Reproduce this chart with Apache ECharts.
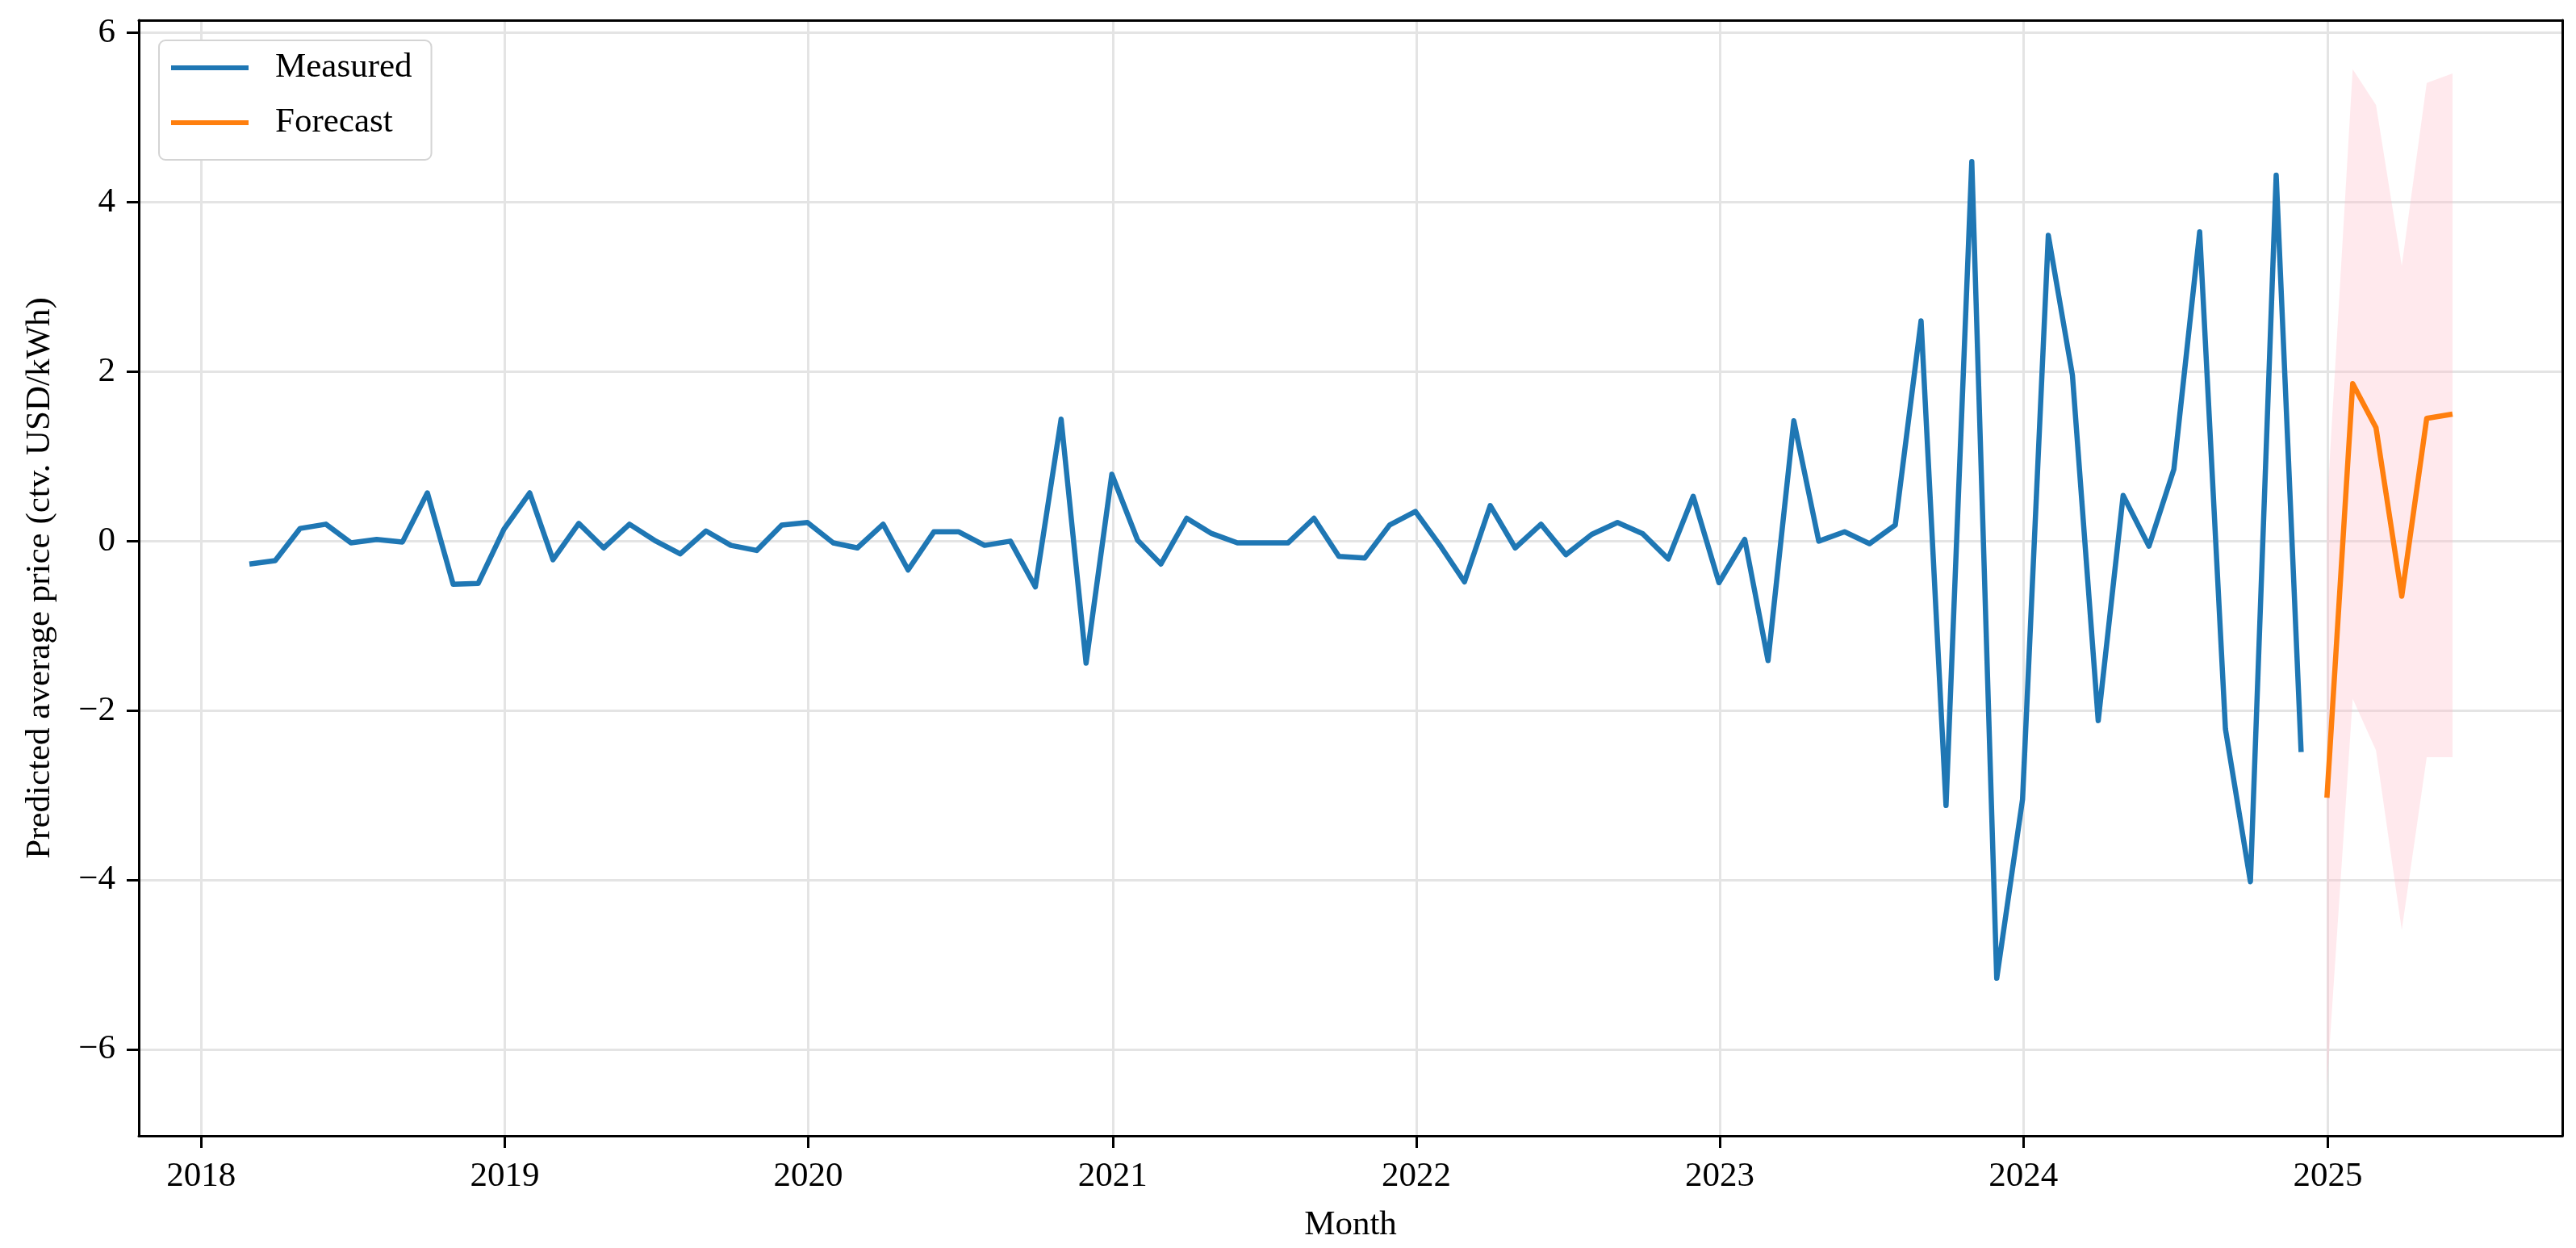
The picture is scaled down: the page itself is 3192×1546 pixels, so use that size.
<!DOCTYPE html>
<html>
<head>
<meta charset="utf-8">
<script src="https://cdn.jsdelivr.net/npm/echarts@6/dist/echarts.min.js"></script>
<style>
html,body{margin:0;padding:0;background:#fff;}
#chart{width:3192px;height:1546px;}
</style>
</head>
<body>
<div id="chart"></div>
<script>
// ---- data ----
const measuredDates = [
 '2018-02-28','2018-03-31','2018-04-30','2018-05-31','2018-06-30','2018-07-31','2018-08-31','2018-09-30','2018-10-31','2018-11-30','2018-12-31',
 '2019-01-31','2019-02-28','2019-03-31','2019-04-30','2019-05-31','2019-06-30','2019-07-31','2019-08-31','2019-09-30','2019-10-31','2019-11-30','2019-12-31',
 '2020-01-31','2020-02-29','2020-03-31','2020-04-30','2020-05-31','2020-06-30','2020-07-31','2020-08-31','2020-09-30','2020-10-31','2020-11-30','2020-12-31',
 '2021-01-31','2021-02-28','2021-03-31','2021-04-30','2021-05-31','2021-06-30','2021-07-31','2021-08-31','2021-09-30','2021-10-31','2021-11-30','2021-12-31',
 '2022-01-31','2022-02-28','2022-03-31','2022-04-30','2022-05-31','2022-06-30','2022-07-31','2022-08-31','2022-09-30','2022-10-31','2022-11-30','2022-12-31',
 '2023-01-31','2023-02-28','2023-03-31','2023-04-30','2023-05-31','2023-06-30','2023-07-31','2023-08-31','2023-09-30','2023-10-31','2023-11-30','2023-12-31',
 '2024-01-31','2024-02-29','2024-03-31','2024-04-30','2024-05-31','2024-06-30','2024-07-31','2024-08-31','2024-09-30','2024-10-31','2024-11-30'
];
const measuredValues = [
 -0.27,-0.23,0.15,0.20,-0.02,0.02,-0.01,0.57,-0.51,-0.50,0.14,
 0.57,-0.22,0.21,-0.08,0.20,0.01,-0.15,0.12,-0.05,-0.11,0.19,0.22,
 -0.02,-0.08,0.20,-0.34,0.11,0.11,-0.05,0.00,-0.54,1.44,-1.44,0.79,
 0.01,-0.27,0.27,0.09,-0.02,-0.02,-0.02,0.27,-0.18,-0.20,0.19,0.35,
 -0.07,-0.48,0.42,-0.08,0.20,-0.16,0.08,0.22,0.09,-0.21,0.53,-0.49,
 0.02,-1.41,1.42,0.00,0.11,-0.03,0.19,2.60,-3.12,4.48,-5.16,-3.05,
 3.61,1.96,-2.12,0.54,-0.06,0.85,3.65,-2.22,-4.02,4.32,-2.49
];
const forecastDates = ['2024-12-31','2025-01-31','2025-02-28','2025-03-31','2025-04-30','2025-05-31'];
const forecastValues = [-3.03, 1.86, 1.34, -0.65, 1.45, 1.50];
const bandLower = [-6.43, -1.86, -2.47, -4.59, -2.55, -2.55];
const bandUpper = [0.40, 5.57, 5.15, 3.25, 5.41, 5.52];
const xRange = ['2017-10-18', '2025-10-10'];
const yRange = [-7.02, 6.15];

// ---- helpers ----
function ts(s){ const p = s.split('-').map(Number); return new Date(p[0], p[1]-1, p[2]).getTime(); }
const FONT = "'Liberation Serif','DejaVu Serif',serif";
const FS = 43;
const measuredData = measuredDates.map((d,i)=>[ts(d), measuredValues[i]]);
const forecastData = forecastDates.map((d,i)=>[ts(d), forecastValues[i]]);
const bandData = forecastDates.map((d,i)=>[ts(d), bandLower[i], bandUpper[i]]);

const spine = {show:true, onZero:false, lineStyle:{color:'#000', width:3}};

const chart = echarts.init(document.getElementById('chart'), null, {renderer:'canvas'});
chart.setOption({
  animation:false,
  backgroundColor:'#ffffff',
  textStyle:{fontFamily:FONT},
  grid:{left:172, right:17, top:25, bottom:139, containLabel:false, outerBoundsMode:'none', show:false},
  legend:{
    orient:'vertical', left:197, top:50,
    itemWidth:96, itemHeight:6, itemGap:20,
    padding:[10,24,22,15],
    backgroundColor:'#fff', borderColor:'#d4d4d4', borderWidth:2, borderRadius:8,
    icon:'rect',
    textStyle:{fontFamily:FONT, fontSize:FS, color:'#000', lineHeight:48, padding:[0,0,0,28]},
    data:['Measured','Forecast']
  },
  xAxis:[{
    type:'time', min:ts(xRange[0]), max:ts(xRange[1]),
    splitNumber:8,
    name:'Month', nameLocation:'middle', nameGap:89,
    nameTextStyle:{fontFamily:FONT, fontSize:FS, color:'#000'},
    axisLine:spine,
    axisTick:{show:true, length:15, lineStyle:{color:'#000', width:3}},
    axisLabel:{fontFamily:FONT, fontSize:FS, color:'#000', margin:29, formatter:'{yyyy}', hideOverlap:false},
    splitLine:{show:true, lineStyle:{color:'#e4e4e4', width:3}},
    minorTick:{show:false}
  },{
    type:'time', position:'top', min:ts(xRange[0]), max:ts(xRange[1]),
    axisLine:spine, axisTick:{show:false}, axisLabel:{show:false}, splitLine:{show:false}
  }],
  yAxis:[{
    type:'value', min:yRange[0], max:yRange[1], splitNumber:6,
    name:'Predicted average price (ctv. USD/kWh)', nameLocation:'middle', nameGap:101, nameRotate:90,
    nameTextStyle:{fontFamily:FONT, fontSize:FS, color:'#000'},
    axisLine:spine,
    axisTick:{show:true, length:15, lineStyle:{color:'#000', width:3}},
    axisLabel:{fontFamily:FONT, fontSize:FS, color:'#000', margin:29, showMinLabel:false, showMaxLabel:false,
      formatter:v=>String(v).replace('-','\u2212')},
    splitLine:{show:true, lineStyle:{color:'#e4e4e4', width:3}}
  },{
    type:'value', position:'right', min:yRange[0], max:yRange[1],
    axisLine:spine, axisTick:{show:false}, axisLabel:{show:false}, splitLine:{show:false}
  }],
  series:[
    {
      name:'band', type:'custom', z:1, silent:true,
      data:bandData, encode:{x:0, y:[1,2]},
      renderItem:function(params, api){
        if(params.dataIndex!==0) return null;
        const pts=[];
        for(let i=0;i<bandData.length;i++) pts.push(api.coord([bandData[i][0], bandData[i][2]]));
        for(let i=bandData.length-1;i>=0;i--) pts.push(api.coord([bandData[i][0], bandData[i][1]]));
        return {type:'polygon', shape:{points:pts}, style:{fill:'rgba(255,192,203,0.35)'}};
      }
    },
    {
      name:'Measured', type:'line', z:3, data:measuredData, showSymbol:false, symbol:'none',
      color:'#1f77b4', lineStyle:{color:'#1f77b4', width:6.5, join:'round'}
    },
    {
      name:'Forecast', type:'line', z:3, data:forecastData, showSymbol:false, symbol:'none',
      color:'#ff7f0e', lineStyle:{color:'#ff7f0e', width:6.5, join:'round'}
    }
  ]
});
</script>
</body>
</html>
